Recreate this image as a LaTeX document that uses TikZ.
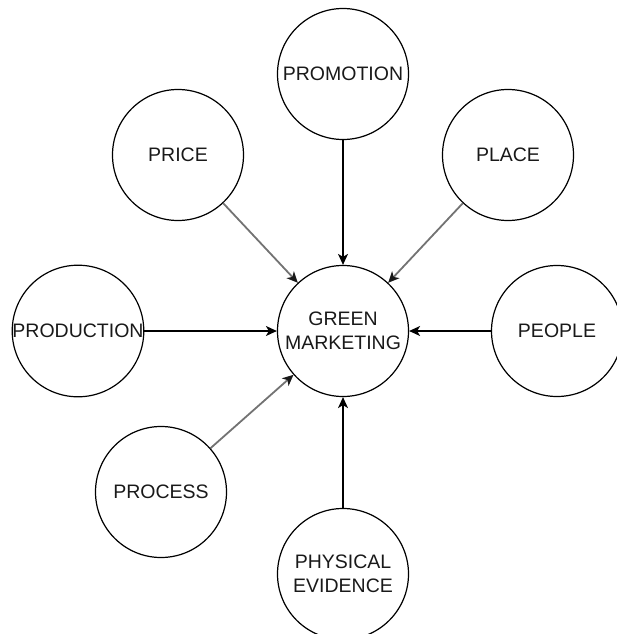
\documentclass[tikz,border=0pt]{standalone}
\usepackage{fontspec}
\setmainfont{Liberation Sans}
\usetikzlibrary{arrows.meta}
\begin{document}
\begin{tikzpicture}[x=1pt,y=-1pt,
  mix/.style={circle,draw=black,line width=1.2pt,minimum size=131pt,inner sep=0pt,
    align=center,font=\fontsize{19.5}{24}\selectfont,text=black!90},
  feed/.style={line width=1.3pt,draw=black,-{Stealth[length=11pt,width=10pt,inset=3pt]}},
  feedgray/.style={line width=1.8pt,draw=black!55,-{Stealth[length=11pt,width=10pt,inset=3pt,color=black!90]}}]
  \useasboundingbox (0,0) rectangle (616,634);
  % core concept
  \node[mix] (green) at (343,331) {GREEN\\MARKETING};
  % surrounding elements of the marketing mix
  \node[mix] (promotion) at (343,74) {PROMOTION};
  \node[mix] (price) at (178,155) {PRICE};
  \node[mix] (place) at (508,155) {PLACE};
  \node[mix] (production) at (78,331) {PRODUCTION};
  \node[mix] (people) at (557,331) {PEOPLE};
  \node[mix] (process) at (161,492) {PROCESS};
  \node[mix] (physical) at (343,574) {PHYSICAL\\EVIDENCE};
  % connectors into the centre
  \draw[feed] (promotion) -- (green);
  \draw[feed] (production) -- (green);
  \draw[feed] (people) -- (green);
  \draw[feed] (physical) -- (green);
  \draw[feedgray] (price) -- (green);
  \draw[feedgray] (place) -- (green);
  \draw[feedgray] (process) -- (green);
\end{tikzpicture}
\end{document}
